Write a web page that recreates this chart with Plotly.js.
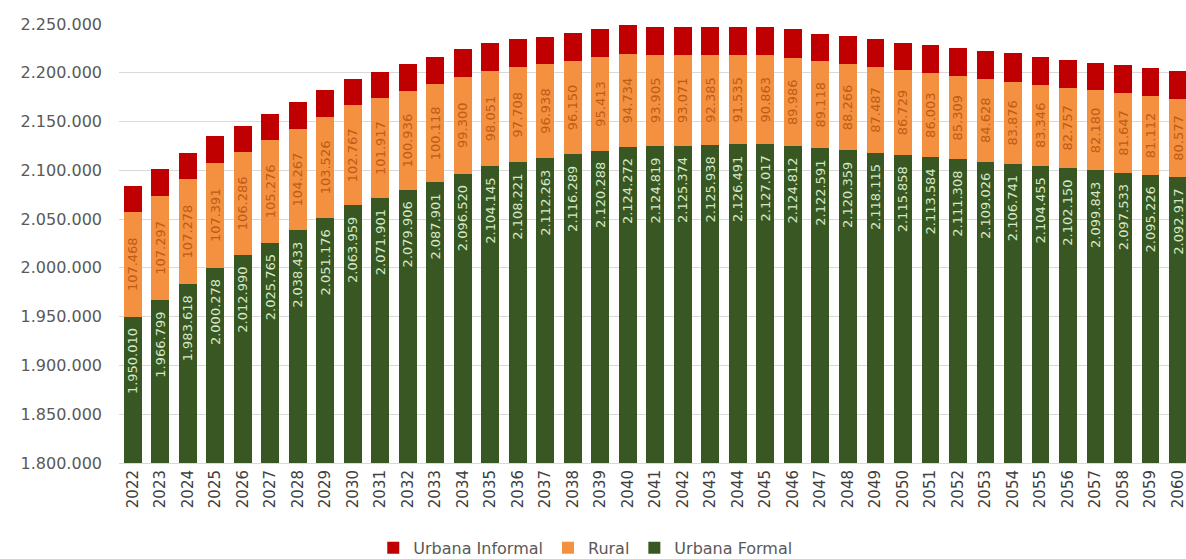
<!DOCTYPE html>
<html>
<head>
<meta charset="utf-8">
<script src="https://cdn.plot.ly/plotly-3.0.1.min.js"></script>
<style>
  html, body { margin: 0; padding: 0; background: #ffffff; }
  #chart { width: 1186px; height: 559px; }
</style>
</head>
<body>
<div id="chart"></div>
<script>
const years = ["2022","2023","2024","2025","2026","2027","2028","2029","2030","2031","2032","2033","2034","2035","2036","2037","2038","2039","2040","2041","2042","2043","2044","2045","2046","2047","2048","2049","2050","2051","2052","2053","2054","2055","2056","2057","2058","2059","2060"];

const urbanaFormal = [1950010,1966799,1983618,2000278,2012990,2025765,2038433,2051176,2063959,2071901,2079906,2087901,2096520,2104145,2108221,2112263,2116289,2120288,2124272,2124819,2125374,2125938,2126491,2127017,2124812,2122591,2120359,2118115,2115858,2113584,2111308,2109026,2106741,2104455,2102150,2099843,2097533,2095226,2092917];

const rural = [107468,107297,107278,107391,106286,105276,104267,103526,102767,101917,100936,100118,99300,98051,97708,96938,96150,95413,94734,93905,93071,92385,91535,90863,89986,89118,88266,87487,86729,86003,85309,84628,83876,83346,82757,82180,81647,81112,80577];

const urbanaInformal = [26100,27300,26900,27200,25900,26900,27100,27400,27100,27200,27700,28000,28100,27900,28300,27800,28600,28800,29500,28500,28800,28900,29200,29400,29700,27600,29000,28600,28200,28500,28300,28500,29200,28200,28700,28300,28600,28800,28200];

const legendNames = ["Urbana Formal", "Rural", "Urbana Informal"];

const FONT = "DejaVu Sans, Verdana, sans-serif";

const traces = [
  {
    type: "bar", name: legendNames[0], x: years, y: urbanaFormal,
    marker: { color: "#385723" },
    texttemplate: "%{y:,}\u00a0\u00a0", textposition: "inside", insidetextanchor: "end",
    textangle: -90, constraintext: "none",
    textfont: { family: FONT, size: 13, color: "#d6e8c6" },
    hoverinfo: "skip"
  },
  {
    type: "bar", name: legendNames[1], x: years, y: rural,
    marker: { color: "#F39140" },
    texttemplate: "%{y:,}", textposition: "inside", insidetextanchor: "middle",
    textangle: -90, constraintext: "none",
    textfont: { family: FONT, size: 13, color: "#c05a14" },
    hoverinfo: "skip"
  },
  {
    type: "bar", name: legendNames[2], x: years, y: urbanaInformal,
    marker: { color: "#C00000" },
    textposition: "none",
    hoverinfo: "skip"
  }
];

const layout = {
  width: 1186, height: 559,
  margin: { l: 119, r: 0, t: 24, b: 96, pad: 0 },
  barmode: "stack",
  bargap: 0.35,
  separators: ",.",
  paper_bgcolor: "#ffffff",
  plot_bgcolor: "#ffffff",
  font: { family: FONT, color: "#595959" },
  showlegend: true,
  legend: {
    orientation: "h", traceorder: "reversed",
    x: 0.437, xanchor: "center",
    yref: "container", y: 0.02, yanchor: "middle",
    font: { family: FONT, size: 16, color: "#595959" }
  },
  xaxis: {
    type: "category",
    range: [-0.5, 38.29],
    tickangle: -90,
    tickfont: { family: FONT, size: 15, color: "#404040" },
    showline: true, linecolor: "#d9d9d9", linewidth: 1,
    ticks: "", showgrid: false, fixedrange: true
  },
  yaxis: {
    range: [1800000, 2250000],
    dtick: 50000, tick0: 1800000,
    tickformat: ",d",
    tickfont: { family: FONT, size: 16, color: "#595959" },
    gridcolor: "#d9d9d9", gridwidth: 1,
    zeroline: false, showline: false, ticks: "",
    ticklabelstandoff: 16, fixedrange: true
  }
};

Plotly.newPlot("chart", traces, layout, { displayModeBar: false, staticPlot: true });
</script>
</body>
</html>
